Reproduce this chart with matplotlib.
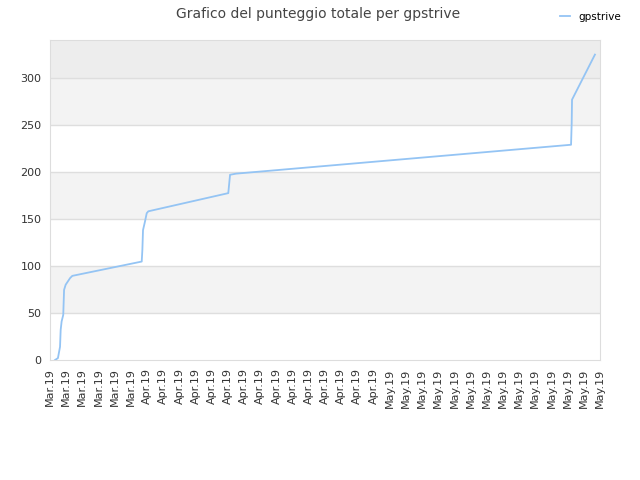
import pandas as pd
import matplotlib
matplotlib.use("Agg")
import matplotlib.pyplot as plt

# momenti e punteggio cumulativo
tempi = [
    "2019-03-20 15:00", "2019-03-20 23:30", "2019-03-21 05:45", "2019-03-21 07:40",
    "2019-03-21 10:30", "2019-03-21 15:20", "2019-03-21 17:45", "2019-03-21 22:30",
    "2019-03-22 11:30", "2019-03-22 18:15", "2019-03-31 08:10", "2019-03-31 10:05",
    "2019-03-31 12:00", "2019-03-31 17:45", "2019-03-31 23:00", "2019-04-01 03:50",
    "2019-04-11 01:00", "2019-04-11 06:15", "2019-04-12 00:00", "2019-05-23 10:05",
    "2019-05-23 12:00", "2019-05-23 13:00", "2019-05-26 09:00",
]
punteggio = [0, 2, 14, 32, 41, 48, 74.5, 80, 87, 89.4, 104.6, 117, 138, 147,
             156, 158, 177.3, 196.8, 198, 228.7, 251.8, 276.6, 324.5]
giocatore = "gpstrive"

date = pd.to_datetime(tempi)

fig = plt.figure(figsize=(6.4, 4.8), dpi=100)
ax = fig.add_axes([50 / 640, 120 / 480, 550 / 640, 320 / 480])

# fasce alternate di sfondo
for y0 in (50, 150, 250):
    ax.axhspan(y0, y0 + 50, color="#f3f3f3", zorder=0, lw=0)
ax.axhspan(300, 340, color="#ededed", zorder=0, lw=0)
for y in range(50, 301, 50):
    ax.axhline(y, color="#dedede", lw=1, zorder=1)

ax.plot(date, punteggio, color="#94c4f4", lw=1.3, label=giocatore, zorder=3)

ax.set_xlim(pd.Timestamp("2019-03-20"), pd.Timestamp("2019-05-27"))
ax.set_ylim(0, 340)
ax.set_yticks(range(0, 301, 50))
ticks = pd.date_range("2019-03-20", "2019-05-27", freq="2D")
ax.set_xticks(ticks)
ax.set_xticklabels([t.strftime("%b.%y") for t in ticks], rotation=90)

ax.tick_params(length=0, labelsize=8, labelcolor="#333333", pad=6)
for s in ax.spines.values():
    s.set_color("#dddddd")

fig.suptitle("Grafico del punteggio totale per gpstrive", x=318 / 640, y=0.985,
             fontsize=10, color="#444444")
fig.legend(loc="upper right", bbox_to_anchor=(0.985, 0.995), frameon=False,
           fontsize=7.5, handlelength=1.0, handletextpad=0.8)

fig.savefig("out.png", dpi=100)
